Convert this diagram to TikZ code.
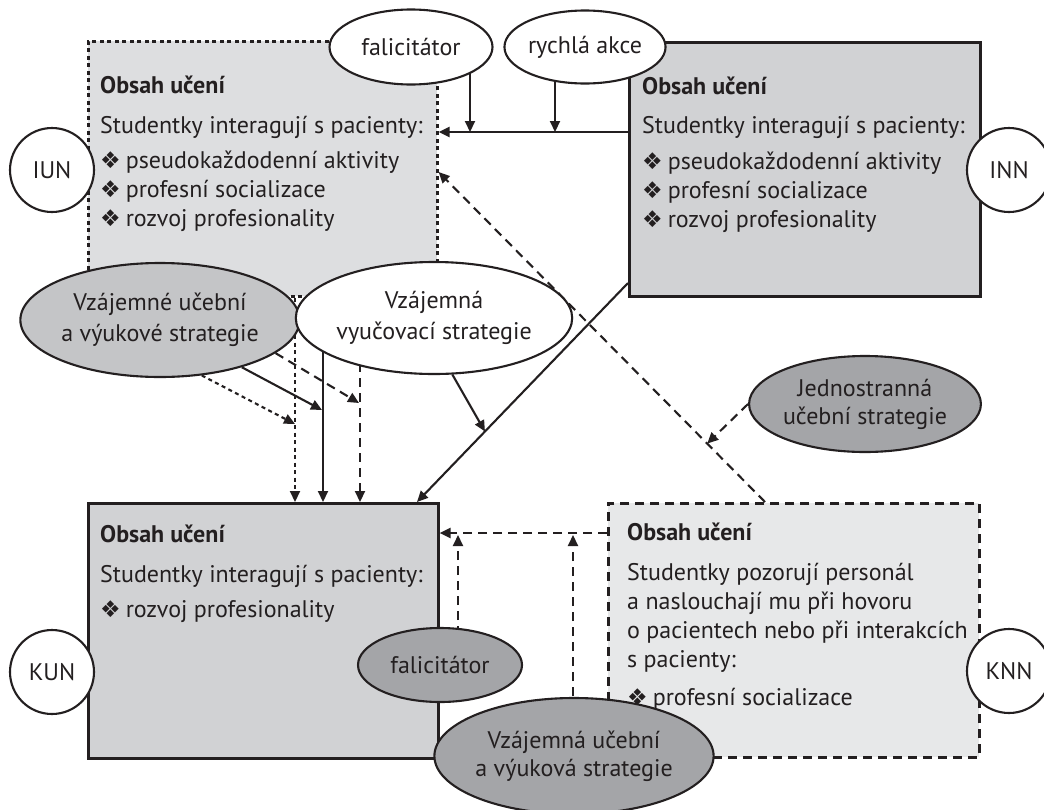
\documentclass[tikz,border=0pt]{standalone}
\usepackage{fontspec}
\setmainfont{PT Sans}
\newfontfamily\symfont{DejaVu Sans}
\usetikzlibrary{arrows.meta,shapes.geometric,calc}
\pgfdeclarelayer{boxes}
\pgfdeclarelayer{arrows}
\pgfsetlayers{boxes,arrows,main}
\definecolor{ink}{RGB}{35,31,32}
\definecolor{boxA}{RGB}{221,222,224}
\definecolor{boxB}{RGB}{209,210,212}
\definecolor{boxC}{RGB}{231,232,233}
\definecolor{ellMid}{RGB}{196,197,199}
\definecolor{ellDark}{RGB}{164,165,168}
\newcommand{\bul}{{\symfont\fontsize{23}{23}\selectfont ❖}\hspace{5pt}}
\tikzset{
  x=1pt, y=-1pt,
  every node/.style={font=\fontsize{24}{29}\selectfont, text=ink},
  boxshape/.style={draw=ink, line width=2.6pt, inner sep=0pt, anchor=north west},
  txt/.style={anchor=base west, inner sep=0pt},
  ttl/.style={txt, font=\fontsize{24}{29}\selectfont\bfseries},
  ell/.style={ellipse, draw=ink, line width=2.1pt, inner sep=0pt, align=center,
    font=\fontsize{24}{31}\selectfont},
  circ/.style={circle, draw=ink, line width=2.1pt, fill=white, minimum size=84pt, inner sep=0pt},
  arr/.style={draw=ink, line width=2.1pt, -{Triangle[length=11pt,width=10pt]}},
  dsh/.style={dash pattern=on 9pt off 6pt},
  dtt/.style={dash pattern=on 4pt off 3.5pt}
}
\begin{document}
\begin{tikzpicture}
\useasboundingbox (0,0) rectangle (1044,809);

\begin{pgfonlayer}{boxes}
\fill[white] (0,0) rectangle (1044,809);
\node[boxshape, fill=boxA, dtt, minimum width=349pt, minimum height=255pt] (iun) at (87,40) {};
\node[boxshape, fill=boxB, minimum width=351pt, minimum height=254pt] (inn) at (628,41) {};
\node[boxshape, fill=boxB, minimum width=350pt, minimum height=255pt] (kun) at (87,502) {};
\node[boxshape, fill=boxC, dsh, minimum width=371pt, minimum height=254pt] (knn) at (607,502) {};

\node[ttl] (iunT) at (100,93) {Obsah učení};
\node[txt] (iun1) at (100,133) {Studentky interagují s pacienty:};
\node[txt] (iun2) at (100,168) {\bul pseudokaždodenní aktivity};
\node[txt] (iun3) at (100,197) {\bul profesní socializace};
\node[txt] (iun4) at (100,226) {\bul rozvoj profesionality};

\node[ttl] (innT) at (642,94) {Obsah učení};
\node[txt] (inn1) at (642,133) {Studentky interagují s pacienty:};
\node[txt] (inn2) at (642,169) {\bul pseudokaždodenní aktivity};
\node[txt] (inn3) at (642,198) {\bul profesní socializace};
\node[txt] (inn4) at (642,227) {\bul rozvoj profesionality};

\node[ttl] (kunT) at (100,542) {Obsah učení};
\node[txt] (kun1) at (100,582) {Studentky interagují s pacienty:};
\node[txt] (kun2) at (100,617) {\bul rozvoj profesionality};

\node[ttl] (knnT) at (627,540) {Obsah učení};
\node[txt] (knn1) at (627,580) {Studentky pozorují personál};
\node[txt] (knn2) at (627,609) {a naslouchají mu při hovoru};
\node[txt] (knn3) at (627,638) {o pacientech nebo při interakcích};
\node[txt] (knn4) at (627,667) {s pacienty:};
\node[txt] (knn5) at (627,705) {\bul profesní socializace};
\end{pgfonlayer}

% ellipses and circles
\node[ell, fill=white, minimum width=163pt, minimum height=75pt] (fal1) at (411,47) {falicitátor};
\node[ell, fill=white, minimum width=160pt, minimum height=73pt] (rych) at (585,47) {rychlá akce};
\node[ell, fill=ellMid, minimum width=254pt, minimum height=114pt] (vzaj) at (160,320) {Vzájemné učební\\a výukové strategie};
\node[ell, fill=white, minimum width=252pt, minimum height=112pt] (vyuc) at (434,318) {Vzájemná\\vyučovací strategie};
\node[ell, fill=ellDark, minimum width=216pt, minimum height=96pt, font=\fontsize{24}{28}\selectfont] (jedn) at (865,404) {Jednostranná\\učební strategie};
\node[ell, fill=ellDark, minimum width=164pt, minimum height=74pt] (fal2) at (440,665) {falicitátor};
\node[ell, fill=ellDark, minimum width=248pt, minimum height=116pt, font=\fontsize{24}{28}\selectfont] (vzuc) at (574,756) {Vzájemná učební\\a výuková strategie};

\node[circ] (cIUN) at (52,170) {IUN};
\node[circ] (cINN) at (1009,170) {INN};
\node[circ] (cKUN) at (52,672) {KUN};
\node[circ] (cKNN) at (1009,671) {KNN};

\begin{pgfonlayer}{arrows}
\draw[arr] (inn.west |- 0,132) -- (iun.east |- 0,132);
\draw[arr] (fal1.center -| 470,0) -- (470,132);
\draw[arr] (rych.center -| 555,0) -- (555,132);
\coordinate (dA) at (knn.north -| 765,0);
\coordinate (dB) at (iun.east |- 0,172);
\draw[arr,dsh] (dA) -- (dB);
\draw[arr,dsh] (jedn.west) -- ($(dA)!0.177!(dB)$);
\coordinate (fA) at (inn.west |- 0,283);
\coordinate (fB) at (kun.north -| 417,0);
\draw[arr] (fA) -- (fB);
\draw[arr] (vyuc.-72) -- ($(fA)!0.678!(fB)$);
\draw[arr,dtt] (vzaj.-53.5) -- (295,424);
\draw[arr] (vzaj.-30) -- (322,410);
\draw[arr,dsh] (vzaj.-16.6) -- (359,403);
\draw[arr,dtt] (iun.south -| 295,0) -- (kun.north -| 295,0);
\draw[arr] (vyuc.center -| 323,0) -- (kun.north -| 323,0);
\draw[arr,dsh] (vyuc.center -| 360,0) -- (kun.north -| 360,0);
\draw[arr,dsh] (knn.west |- 0,533) -- (kun.east |- 0,533);
\draw[arr,dsh] (fal2.center -| 458,0) -- (458,535);
\draw[arr,dsh] (vzuc.center -| 573,0) -- (573,535);
\end{pgfonlayer}
\end{tikzpicture}
\end{document}
